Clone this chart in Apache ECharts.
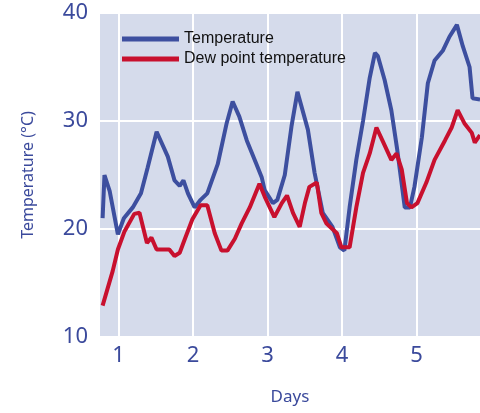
<!DOCTYPE html>
<html>
<head>
<meta charset="utf-8">
<script src="https://cdn.jsdelivr.net/npm/echarts@6/dist/echarts.min.js"></script>
<style>
  html, body { margin: 0; padding: 0; background: #fff; }
  #chart { width: 480px; height: 413px; }
</style>
</head>
<body>
<div id="chart"></div>
<script>
// temperature readings (day, °C)
const tempDays = [0.785, 0.81, 0.88, 0.99, 1.07, 1.19, 1.30, 1.39, 1.51, 1.66, 1.75, 1.82, 1.87, 1.93, 2.02, 2.10,
  2.19, 2.33, 2.45, 2.53, 2.62, 2.72, 2.85, 2.92, 2.96, 3.07, 3.13, 3.23, 3.32, 3.40, 3.54, 3.63, 3.74, 3.87,
  3.97, 4.03, 4.10, 4.19, 4.28, 4.37, 4.44, 4.48, 4.57, 4.66, 4.74, 4.84, 4.91, 4.97, 5.07, 5.15, 5.24, 5.35,
  5.44, 5.54, 5.62, 5.71, 5.75, 5.85];
const tempValues = [21, 25, 23.5, 19.5, 21, 22, 23.3, 25.7, 29, 26.7, 24.5, 24, 24.5, 23.3, 22, 22.7,
  23.3, 26, 29.8, 31.8, 30.4, 28.2, 26, 24.8, 23.6, 22.4, 22.7, 25, 29.5, 32.7, 29.2, 25.2, 21.5, 20.2,
  18.3, 18, 22, 26.4, 30, 34, 36.3, 36, 33.8, 31, 27.3, 22, 22, 23.9, 28.5, 33.5, 35.6, 36.5,
  37.8, 38.9, 36.9, 35, 32.1, 32];

// dew point readings (day, °C)
const dewDays = [0.785, 0.92, 0.99, 1.08, 1.21, 1.28, 1.38, 1.44, 1.51, 1.68, 1.75, 1.82, 1.89, 1.99, 2.10,
  2.19, 2.29, 2.38, 2.46, 2.56, 2.65, 2.76, 2.89, 2.96, 3.09, 3.19, 3.26, 3.34, 3.43, 3.50, 3.56, 3.66, 3.72,
  3.79, 3.93, 3.99, 4.10, 4.19, 4.28, 4.37, 4.46, 4.54, 4.66, 4.73, 4.80, 4.87, 4.93, 5.01, 5.13, 5.24, 5.38,
  5.47, 5.55, 5.64, 5.74, 5.78, 5.85];
const dewValues = [12.9, 16.1, 18.1, 19.8, 21.4, 21.5, 18.7, 19.2, 18.1, 18.1, 17.5, 17.8, 19.1, 20.9, 22.2,
  22.2, 19.6, 18, 18, 19.1, 20.5, 22, 24.2, 23, 21.1, 22.4, 23.1, 21.5, 20.2, 22.4, 23.9, 24.3, 21.5,
  20.5, 19.6, 18.3, 18.3, 22, 25.2, 27, 29.4, 28.2, 26.4, 27, 25.5, 22.4, 22, 22.4, 24.3, 26.4, 28.2,
  29.4, 31, 29.8, 28.9, 28, 28.7];

const dayTicks = [1, 2, 3, 4, 5];

const labelColor = '#3b4a9c';
const font = 'Noto Sans';

const chart = echarts.init(document.getElementById('chart'));
chart.setOption({
  animation: false,
  grid: {
    left: 100, right: 0, top: 13, bottom: 76,
    show: true, backgroundColor: '#d5dbeb', borderWidth: 0
  },
  legend: {
    orient: 'vertical',
    left: 117,
    top: 26,
    itemWidth: 57,
    itemHeight: 5,
    itemGap: 4,
    icon: 'rect',
    textStyle: { color: '#111', fontSize: 16, fontFamily: 'Liberation Sans' },
    data: ['Temperature', 'Dew point temperature']
  },
  xAxis: {
    type: 'value',
    min: 0.75,
    max: 5.85,
    name: 'Days',
    nameLocation: 'middle',
    nameGap: 52,
    nameTextStyle: { color: labelColor, fontSize: 17, fontFamily: font },
    axisLine: { show: false },
    axisTick: { show: false, customValues: dayTicks },
    axisLabel: { customValues: dayTicks, color: labelColor, fontSize: 22, fontFamily: font, margin: 8 },
    splitLine: { show: true, lineStyle: { color: '#fff', width: 2 } }
  },
  yAxis: {
    type: 'value',
    min: 10,
    max: 40,
    interval: 10,
    name: 'Temperature (°C)',
    nameLocation: 'middle',
    nameGap: 64,
    nameTextStyle: { color: labelColor, fontSize: 16, fontFamily: font },
    axisLine: { show: false },
    axisTick: { show: false },
    axisLabel: { color: labelColor, fontSize: 22, fontFamily: font, margin: 12 },
    splitLine: { show: true, lineStyle: { color: '#fff', width: 2 } }
  },
  series: [
    {
      name: 'Temperature',
      type: 'line',
      showSymbol: false,
      color: '#3d4f9f',
      lineStyle: { width: 4 },
      data: tempDays.map((d, i) => [d, tempValues[i]])
    },
    {
      name: 'Dew point temperature',
      type: 'line',
      showSymbol: false,
      color: '#c8102e',
      lineStyle: { width: 4 },
      data: dewDays.map((d, i) => [d, dewValues[i]])
    }
  ]
});
</script>
</body>
</html>
